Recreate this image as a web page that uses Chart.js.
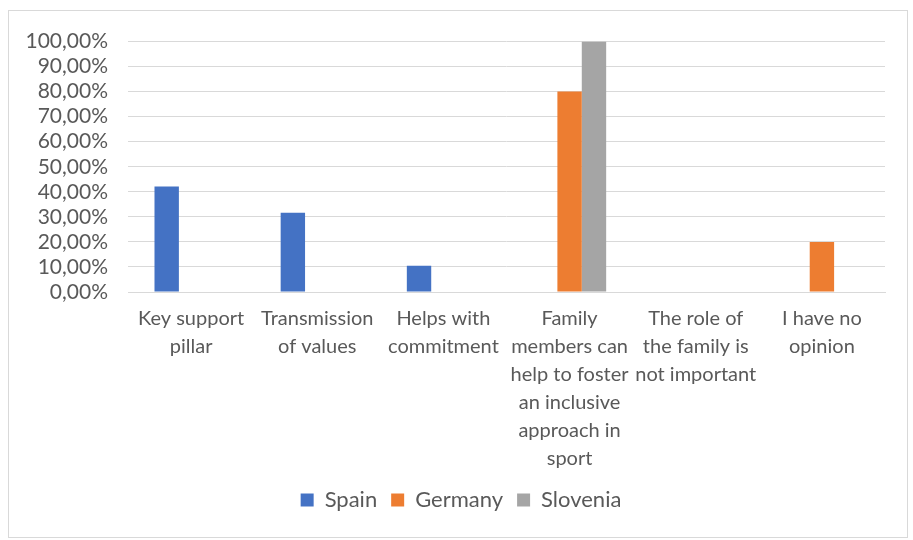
<!DOCTYPE html>
<html>
<head>
  <meta charset="UTF-8">
  <title>Role of the family</title>
  <script src="https://cdn.jsdelivr.net/npm/chart.js"></script>
  <style>
    body {
      margin: 0;
      padding: 0;
      background-color: white;
    }
    #marco {
      position: absolute;
      left: 8px;
      top: 10px;
      width: 898px;
      height: 526px;
      border: 1px solid #d9d9d9;
    }
  </style>
</head>
<body>
  <div id="marco"><canvas id="grafica"></canvas></div>

  <script type="text/javascript">
    const categorias = [
      ['Key support', 'pillar'],
      ['Transmission', 'of values'],
      ['Helps with', 'commitment'],
      ['Family', 'members can', 'help to foster', 'an inclusive', 'approach in', 'sport'],
      ['The role of', 'the family is', 'not important'],
      ['I have no', 'opinion']
    ];
    const spain = [42.1, 31.6, 10.5, 0, 0, 0];
    const germany = [0, 0, 0, 80, 0, 20];
    const slovenia = [0, 0, 0, 100, 0, 0];
    const ticksY = [0, 10, 20, 30, 40, 50, 60, 70, 80, 90, 100];

    const fuente = { family: 'Lato, sans-serif', size: 20, lineHeight: 1.4 };
    const gris = '#595959';

    // la leyenda se centra un poco a la derecha, como en Excel
    const moverLeyenda = {
      id: 'moverLeyenda',
      afterLayout: function(chart) {
        chart.legend.left += 14;
        chart.legend.right += 14;
      }
    };

    const ctx = document.getElementById('grafica').getContext('2d');
    new Chart(ctx, {
      type: 'bar',
      data: {
        labels: categorias,
        datasets: [
          { label: 'Spain', data: spain, backgroundColor: '#4472C4' },
          { label: 'Germany', data: germany, backgroundColor: '#ED7D31' },
          { label: 'Slovenia', data: slovenia, backgroundColor: '#A5A5A5' }
        ]
      },
      plugins: [moverLeyenda],
      options: {
        responsive: true,
        maintainAspectRatio: false,
        animation: false,
        categoryPercentage: 0.58,
        barPercentage: 1,
        layout: { padding: { top: 25, right: 22, bottom: 16, left: 0 } },
        plugins: {
          tooltip: { enabled: false },
          legend: {
            position: 'bottom',
            labels: {
              font: { family: 'Lato, sans-serif', size: 22 },
              color: gris,
              boxWidth: 13,
              boxHeight: 13,
              padding: 14
            }
          }
        },
        scales: {
          x: {
            grid: { display: false, drawTicks: false },
            border: { color: '#d9d9d9' },
            ticks: {
              font: fuente,
              color: gris,
              padding: 13,
              maxRotation: 0,
              autoSkip: false
            },
            afterFit: function(escala) { escala.height = 183; }
          },
          y: {
            min: 0,
            max: 100,
            afterBuildTicks: function(escala) {
              escala.ticks = ticksY.map(v => ({ value: v }));
            },
            grid: { color: '#d9d9d9', lineWidth: 1, drawTicks: false },
            border: { display: false },
            ticks: {
              font: { family: 'Lato, sans-serif', size: 21, lineHeight: 1 },
              color: gris,
              padding: 20,
              autoSkip: false,
              callback: function(v) { return v.toFixed(2).replace('.', ',') + '%'; }
            },
            afterFit: function(escala) { escala.width = 119; }
          }
        }
      }
    });
  </script>
</body>
</html>
